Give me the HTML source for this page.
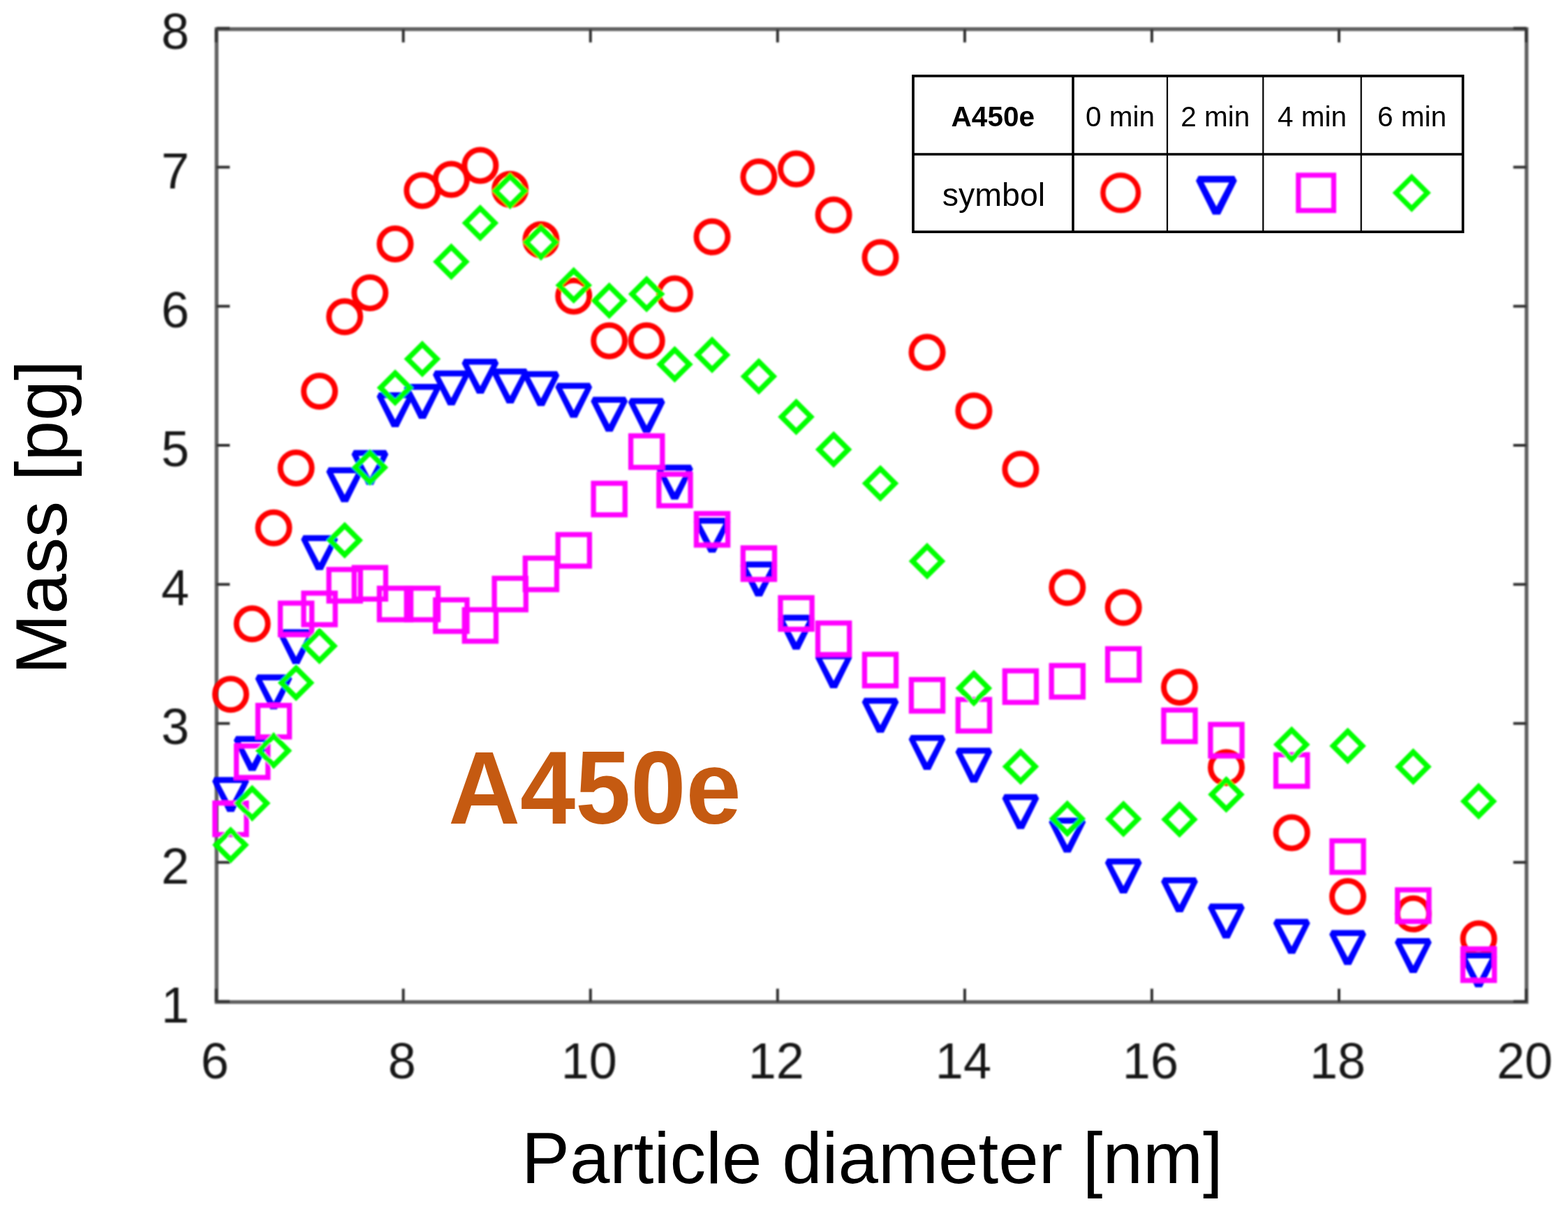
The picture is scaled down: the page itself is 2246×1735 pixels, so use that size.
<!DOCTYPE html>
<html><head><meta charset="utf-8"><title>A450e particle mass distribution</title>
<style>html,body{margin:0;padding:0;background:#fff;}body{width:2246px;height:1735px;overflow:hidden;}svg{display:block;}text{font-family:"Liberation Sans",sans-serif;}</style></head><body>
<svg width="2246" height="1735" viewBox="0 0 2246 1735">
<rect width="2246" height="1735" fill="#fff"/>
<defs><filter id="bl" filterUnits="userSpaceOnUse" x="0" y="0" width="2246" height="1735"><feGaussianBlur stdDeviation="0.8"/></filter></defs>
<g filter="url(#bl)">
<g stroke="#606060" stroke-width="5.4" fill="none" stroke-linecap="square"><path d="M310.2 41.8H2186.6V1435.6H310.2Z"/></g>
<path d="M309.7 1435.6V1416.6M309.7 41.8V60.8M577.7 1435.6V1416.6M577.7 41.8V60.8M845.8 1435.6V1416.6M845.8 41.8V60.8M1113.8 1435.6V1416.6M1113.8 41.8V60.8M1381.9 1435.6V1416.6M1381.9 41.8V60.8M1649.9 1435.6V1416.6M1649.9 41.8V60.8M1918.0 1435.6V1416.6M1918.0 41.8V60.8M2186.0 1435.6V1416.6M2186.0 41.8V60.8M310.2 1434.8H329.2M2186.6 1434.8H2167.6M310.2 1235.6H329.2M2186.6 1235.6H2167.6M310.2 1036.4H329.2M2186.6 1036.4H2167.6M310.2 837.2H329.2M2186.6 837.2H2167.6M310.2 638.0H329.2M2186.6 638.0H2167.6M310.2 438.8H329.2M2186.6 438.8H2167.6M310.2 239.6H329.2M2186.6 239.6H2167.6M310.2 40.4H329.2M2186.6 40.4H2167.6" stroke="#333" stroke-width="4" fill="none"/>
<g font-size="72" fill="#161616">
<text x="307.7" y="1545" text-anchor="middle">6</text>
<text x="575.7" y="1545" text-anchor="middle">8</text>
<text x="843.8" y="1545" text-anchor="middle">10</text>
<text x="1111.8" y="1545" text-anchor="middle">12</text>
<text x="1379.9" y="1545" text-anchor="middle">14</text>
<text x="1647.9" y="1545" text-anchor="middle">16</text>
<text x="1916.0" y="1545" text-anchor="middle">18</text>
<text x="2184.0" y="1545" text-anchor="middle">20</text>
<text x="271" y="1464.8" text-anchor="end">1</text>
<text x="271" y="1265.6" text-anchor="end">2</text>
<text x="271" y="1066.4" text-anchor="end">3</text>
<text x="271" y="867.2" text-anchor="end">4</text>
<text x="271" y="668.0" text-anchor="end">5</text>
<text x="271" y="468.8" text-anchor="end">6</text>
<text x="271" y="269.6" text-anchor="end">7</text>
<text x="271" y="70.4" text-anchor="end">8</text>
</g>
</g>
<text x="747" y="1695" font-size="103.3" fill="#000">Particle diameter [nm]</text>
<text transform="translate(94.6 966.2) rotate(-90)" x="0" y="0" font-size="103.8" fill="#000">Mass [pg]</text>
<text transform="translate(642.2 1179.5) scale(0.962 1)" font-size="148" font-weight="bold" fill="#C55A11">A450e</text>
<g filter="url(#bl)">
<circle cx="330.4" cy="994.8" r="22.5" fill="none" stroke="#f00" stroke-width="8.0"/>
<circle cx="361.2" cy="893.8" r="22.5" fill="none" stroke="#f00" stroke-width="8.0"/>
<circle cx="392.0" cy="756.3" r="22.5" fill="none" stroke="#f00" stroke-width="8.0"/>
<circle cx="424.1" cy="670.4" r="22.5" fill="none" stroke="#f00" stroke-width="8.0"/>
<circle cx="457.6" cy="560.6" r="22.5" fill="none" stroke="#f00" stroke-width="8.0"/>
<circle cx="493.7" cy="453.8" r="22.5" fill="none" stroke="#f00" stroke-width="8.0"/>
<circle cx="529.9" cy="419.4" r="22.5" fill="none" stroke="#f00" stroke-width="8.0"/>
<circle cx="566.0" cy="349.5" r="22.5" fill="none" stroke="#f00" stroke-width="8.0"/>
<circle cx="604.9" cy="272.9" r="22.5" fill="none" stroke="#f00" stroke-width="8.0"/>
<circle cx="646.4" cy="257.1" r="22.5" fill="none" stroke="#f00" stroke-width="8.0"/>
<circle cx="687.9" cy="236.9" r="22.5" fill="none" stroke="#f00" stroke-width="8.0"/>
<circle cx="730.7" cy="271.3" r="22.5" fill="none" stroke="#f00" stroke-width="8.0"/>
<circle cx="774.9" cy="343.6" r="22.5" fill="none" stroke="#f00" stroke-width="8.0"/>
<circle cx="821.8" cy="424.2" r="22.5" fill="none" stroke="#f00" stroke-width="8.0"/>
<circle cx="872.7" cy="488.2" r="22.5" fill="none" stroke="#f00" stroke-width="8.0"/>
<circle cx="926.2" cy="488.2" r="22.5" fill="none" stroke="#f00" stroke-width="8.0"/>
<circle cx="966.4" cy="421.1" r="22.5" fill="none" stroke="#f00" stroke-width="8.0"/>
<circle cx="1020.0" cy="339.3" r="22.5" fill="none" stroke="#f00" stroke-width="8.0"/>
<circle cx="1086.9" cy="253.5" r="22.5" fill="none" stroke="#f00" stroke-width="8.0"/>
<circle cx="1140.5" cy="242.1" r="22.5" fill="none" stroke="#f00" stroke-width="8.0"/>
<circle cx="1194.1" cy="308.0" r="22.5" fill="none" stroke="#f00" stroke-width="8.0"/>
<circle cx="1261.0" cy="368.9" r="22.5" fill="none" stroke="#f00" stroke-width="8.0"/>
<circle cx="1328.0" cy="504.8" r="22.5" fill="none" stroke="#f00" stroke-width="8.0"/>
<circle cx="1394.9" cy="588.7" r="22.5" fill="none" stroke="#f00" stroke-width="8.0"/>
<circle cx="1461.9" cy="672.3" r="22.5" fill="none" stroke="#f00" stroke-width="8.0"/>
<circle cx="1528.8" cy="841.8" r="22.5" fill="none" stroke="#f00" stroke-width="8.0"/>
<circle cx="1609.2" cy="870.3" r="22.5" fill="none" stroke="#f00" stroke-width="8.0"/>
<circle cx="1689.5" cy="984.4" r="22.5" fill="none" stroke="#f00" stroke-width="8.0"/>
<circle cx="1756.5" cy="1099.8" r="22.5" fill="none" stroke="#f00" stroke-width="8.0"/>
<circle cx="1850.2" cy="1193.0" r="22.5" fill="none" stroke="#f00" stroke-width="8.0"/>
<circle cx="1930.5" cy="1284.6" r="22.5" fill="none" stroke="#f00" stroke-width="8.0"/>
<circle cx="2024.3" cy="1309.3" r="22.5" fill="none" stroke="#f00" stroke-width="8.0"/>
<circle cx="2118.0" cy="1345.1" r="22.5" fill="none" stroke="#f00" stroke-width="8.0"/>
<path d="M307.3 1113.3L353.4 1113.3L356.8 1119.6L335.2 1163.3L325.6 1163.3L304.0 1119.6ZM314.0 1121.8L346.7 1121.8L330.4 1152.7Z" fill="#00f" fill-rule="evenodd"/>
<path d="M338.1 1054.5L384.2 1054.5L387.6 1060.8L366.0 1104.5L356.4 1104.5L334.8 1060.8ZM344.8 1063.0L377.5 1063.0L361.2 1093.9Z" fill="#00f" fill-rule="evenodd"/>
<path d="M368.9 966.3L415.0 966.3L418.4 972.6L396.8 1016.3L387.2 1016.3L365.6 972.6ZM375.6 974.8L408.3 974.8L392.0 1005.7Z" fill="#00f" fill-rule="evenodd"/>
<path d="M401.1 901.5L447.1 901.5L450.5 907.8L428.9 951.5L419.3 951.5L397.7 907.8ZM407.8 910.0L440.4 910.0L424.1 940.9Z" fill="#00f" fill-rule="evenodd"/>
<path d="M434.5 766.8L480.6 766.8L484.0 773.1L462.4 816.8L452.8 816.8L431.2 773.1ZM441.2 775.3L473.9 775.3L457.6 806.2Z" fill="#00f" fill-rule="evenodd"/>
<path d="M470.7 669.6L516.8 669.6L520.1 675.9L498.5 719.6L488.9 719.6L467.3 675.9ZM477.4 678.1L510.0 678.1L493.7 709.0Z" fill="#00f" fill-rule="evenodd"/>
<path d="M506.8 644.7L552.9 644.7L556.3 651.0L534.7 694.7L525.1 694.7L503.5 651.0ZM513.6 653.2L546.2 653.2L529.9 684.1Z" fill="#00f" fill-rule="evenodd"/>
<path d="M543.0 561.9L589.1 561.9L592.4 568.2L570.8 611.9L561.2 611.9L539.6 568.2ZM549.7 570.4L582.4 570.4L566.0 601.3Z" fill="#00f" fill-rule="evenodd"/>
<path d="M581.8 550.0L627.9 550.0L631.3 556.3L609.7 600.0L600.1 600.0L578.5 556.3ZM588.5 558.5L621.2 558.5L604.9 589.4Z" fill="#00f" fill-rule="evenodd"/>
<path d="M623.3 530.8L669.4 530.8L672.8 537.1L651.2 580.8L641.6 580.8L620.0 537.1ZM630.1 539.3L662.7 539.3L646.4 570.2Z" fill="#00f" fill-rule="evenodd"/>
<path d="M664.8 514.1L710.9 514.1L714.3 520.4L692.7 564.1L683.1 564.1L661.5 520.4ZM671.6 522.6L704.2 522.6L687.9 553.5Z" fill="#00f" fill-rule="evenodd"/>
<path d="M707.7 528.1L753.8 528.1L757.1 534.4L735.5 578.1L725.9 578.1L704.3 534.4ZM714.4 536.6L747.1 536.6L730.7 567.5Z" fill="#00f" fill-rule="evenodd"/>
<path d="M751.9 531.7L798.0 531.7L801.3 538.0L779.7 581.7L770.1 581.7L748.5 538.0ZM758.6 540.2L791.2 540.2L774.9 571.1Z" fill="#00f" fill-rule="evenodd"/>
<path d="M798.8 548.5L844.8 548.5L848.2 554.8L826.6 598.5L817.0 598.5L795.4 554.8ZM805.5 557.0L838.1 557.0L821.8 587.9Z" fill="#00f" fill-rule="evenodd"/>
<path d="M849.6 568.6L895.7 568.6L899.1 574.9L877.5 618.6L867.9 618.6L846.3 574.9ZM856.4 577.1L889.0 577.1L872.7 608.0Z" fill="#00f" fill-rule="evenodd"/>
<path d="M903.2 570.3L949.3 570.3L952.6 576.6L931.0 620.3L921.4 620.3L899.8 576.6ZM909.9 578.8L942.6 578.8L926.2 609.7Z" fill="#00f" fill-rule="evenodd"/>
<path d="M943.4 665.8L989.5 665.8L992.8 672.1L971.2 715.8L961.6 715.8L940.0 672.1ZM950.1 674.3L982.7 674.3L966.4 705.2Z" fill="#00f" fill-rule="evenodd"/>
<path d="M996.9 741.7L1043.0 741.7L1046.4 748.0L1024.8 791.7L1015.2 791.7L993.6 748.0ZM1003.7 750.2L1036.3 750.2L1020.0 781.1Z" fill="#00f" fill-rule="evenodd"/>
<path d="M1063.9 804.5L1110.0 804.5L1113.3 810.8L1091.7 854.5L1082.1 854.5L1060.5 810.8ZM1070.6 813.0L1103.3 813.0L1086.9 843.9Z" fill="#00f" fill-rule="evenodd"/>
<path d="M1117.5 880.7L1163.5 880.7L1166.9 887.0L1145.3 930.7L1135.7 930.7L1114.1 887.0ZM1124.2 889.2L1156.8 889.2L1140.5 920.1Z" fill="#00f" fill-rule="evenodd"/>
<path d="M1171.0 936.0L1217.1 936.0L1220.5 942.3L1198.9 986.0L1189.3 986.0L1167.7 942.3ZM1177.7 944.5L1210.4 944.5L1194.1 975.4Z" fill="#00f" fill-rule="evenodd"/>
<path d="M1238.0 999.7L1284.0 999.7L1287.4 1006.0L1265.8 1049.7L1256.2 1049.7L1234.6 1006.0ZM1244.7 1008.2L1277.3 1008.2L1261.0 1039.1Z" fill="#00f" fill-rule="evenodd"/>
<path d="M1304.9 1053.0L1351.0 1053.0L1354.4 1059.3L1332.8 1103.0L1323.2 1103.0L1301.6 1059.3ZM1311.6 1061.5L1344.3 1061.5L1328.0 1092.4Z" fill="#00f" fill-rule="evenodd"/>
<path d="M1371.9 1071.3L1418.0 1071.3L1421.3 1077.6L1399.7 1121.3L1390.1 1121.3L1368.5 1077.6ZM1378.6 1079.8L1411.2 1079.8L1394.9 1110.7Z" fill="#00f" fill-rule="evenodd"/>
<path d="M1438.8 1137.7L1484.9 1137.7L1488.3 1144.0L1466.7 1187.7L1457.1 1187.7L1435.5 1144.0ZM1445.6 1146.2L1478.2 1146.2L1461.9 1177.1Z" fill="#00f" fill-rule="evenodd"/>
<path d="M1505.8 1171.6L1551.9 1171.6L1555.2 1177.9L1533.6 1221.6L1524.0 1221.6L1502.4 1177.9ZM1512.5 1180.1L1545.1 1180.1L1528.8 1211.0Z" fill="#00f" fill-rule="evenodd"/>
<path d="M1586.1 1230.0L1632.2 1230.0L1635.6 1236.3L1614.0 1280.0L1604.4 1280.0L1582.8 1236.3ZM1592.8 1238.5L1625.5 1238.5L1609.2 1269.4Z" fill="#00f" fill-rule="evenodd"/>
<path d="M1666.5 1257.0L1712.6 1257.0L1715.9 1263.3L1694.3 1307.0L1684.7 1307.0L1663.1 1263.3ZM1673.2 1265.5L1705.8 1265.5L1689.5 1296.4Z" fill="#00f" fill-rule="evenodd"/>
<path d="M1733.4 1294.5L1779.5 1294.5L1782.9 1300.8L1761.3 1344.5L1751.7 1344.5L1730.1 1300.8ZM1740.1 1303.0L1772.8 1303.0L1756.5 1333.9Z" fill="#00f" fill-rule="evenodd"/>
<path d="M1827.2 1316.5L1873.2 1316.5L1876.6 1322.8L1855.0 1366.5L1845.4 1366.5L1823.8 1322.8ZM1833.9 1325.0L1866.5 1325.0L1850.2 1355.9Z" fill="#00f" fill-rule="evenodd"/>
<path d="M1907.5 1332.4L1953.6 1332.4L1956.9 1338.7L1935.3 1382.4L1925.7 1382.4L1904.1 1338.7ZM1914.2 1340.9L1946.9 1340.9L1930.5 1371.8Z" fill="#00f" fill-rule="evenodd"/>
<path d="M2001.2 1344.0L2047.3 1344.0L2050.7 1350.3L2029.1 1394.0L2019.5 1394.0L1997.9 1350.3ZM2008.0 1352.5L2040.6 1352.5L2024.3 1383.4Z" fill="#00f" fill-rule="evenodd"/>
<path d="M2095.0 1364.6L2141.1 1364.6L2144.4 1370.9L2122.8 1414.6L2113.2 1414.6L2091.6 1370.9ZM2101.7 1373.1L2134.3 1373.1L2118.0 1404.0Z" fill="#00f" fill-rule="evenodd"/>
<rect x="307.8" y="1150.5" width="45.2" height="45.2" fill="none" stroke="#f0f" stroke-width="7.3"/>
<rect x="338.6" y="1068.7" width="45.2" height="45.2" fill="none" stroke="#f0f" stroke-width="7.3"/>
<rect x="369.4" y="1010.6" width="45.2" height="45.2" fill="none" stroke="#f0f" stroke-width="7.3"/>
<rect x="401.5" y="864.1" width="45.2" height="45.2" fill="none" stroke="#f0f" stroke-width="7.3"/>
<rect x="435.0" y="849.8" width="45.2" height="45.2" fill="none" stroke="#f0f" stroke-width="7.3"/>
<rect x="471.1" y="815.9" width="45.2" height="45.2" fill="none" stroke="#f0f" stroke-width="7.3"/>
<rect x="507.3" y="813.1" width="45.2" height="45.2" fill="none" stroke="#f0f" stroke-width="7.3"/>
<rect x="543.4" y="842.7" width="45.2" height="45.2" fill="none" stroke="#f0f" stroke-width="7.3"/>
<rect x="582.3" y="842.7" width="45.2" height="45.2" fill="none" stroke="#f0f" stroke-width="7.3"/>
<rect x="623.8" y="859.4" width="45.2" height="45.2" fill="none" stroke="#f0f" stroke-width="7.3"/>
<rect x="665.3" y="873.5" width="45.2" height="45.2" fill="none" stroke="#f0f" stroke-width="7.3"/>
<rect x="708.1" y="828.5" width="45.2" height="45.2" fill="none" stroke="#f0f" stroke-width="7.3"/>
<rect x="752.3" y="799.6" width="45.2" height="45.2" fill="none" stroke="#f0f" stroke-width="7.3"/>
<rect x="799.2" y="765.9" width="45.2" height="45.2" fill="none" stroke="#f0f" stroke-width="7.3"/>
<rect x="850.1" y="692.4" width="45.2" height="45.2" fill="none" stroke="#f0f" stroke-width="7.3"/>
<rect x="903.6" y="624.4" width="45.2" height="45.2" fill="none" stroke="#f0f" stroke-width="7.3"/>
<rect x="943.8" y="679.4" width="45.2" height="45.2" fill="none" stroke="#f0f" stroke-width="7.3"/>
<rect x="997.4" y="735.8" width="45.2" height="45.2" fill="none" stroke="#f0f" stroke-width="7.3"/>
<rect x="1064.3" y="784.9" width="45.2" height="45.2" fill="none" stroke="#f0f" stroke-width="7.3"/>
<rect x="1117.9" y="856.3" width="45.2" height="45.2" fill="none" stroke="#f0f" stroke-width="7.3"/>
<rect x="1171.5" y="892.6" width="45.2" height="45.2" fill="none" stroke="#f0f" stroke-width="7.3"/>
<rect x="1238.4" y="937.4" width="45.2" height="45.2" fill="none" stroke="#f0f" stroke-width="7.3"/>
<rect x="1305.4" y="973.6" width="45.2" height="45.2" fill="none" stroke="#f0f" stroke-width="7.3"/>
<rect x="1372.3" y="1002.1" width="45.2" height="45.2" fill="none" stroke="#f0f" stroke-width="7.3"/>
<rect x="1439.3" y="961.1" width="45.2" height="45.2" fill="none" stroke="#f0f" stroke-width="7.3"/>
<rect x="1506.2" y="953.5" width="45.2" height="45.2" fill="none" stroke="#f0f" stroke-width="7.3"/>
<rect x="1586.6" y="929.4" width="45.2" height="45.2" fill="none" stroke="#f0f" stroke-width="7.3"/>
<rect x="1666.9" y="1017.3" width="45.2" height="45.2" fill="none" stroke="#f0f" stroke-width="7.3"/>
<rect x="1733.9" y="1037.9" width="45.2" height="45.2" fill="none" stroke="#f0f" stroke-width="7.3"/>
<rect x="1827.6" y="1081.3" width="45.2" height="45.2" fill="none" stroke="#f0f" stroke-width="7.3"/>
<rect x="1907.9" y="1204.6" width="45.2" height="45.2" fill="none" stroke="#f0f" stroke-width="7.3"/>
<rect x="2001.7" y="1274.9" width="45.2" height="45.2" fill="none" stroke="#f0f" stroke-width="7.3"/>
<rect x="2095.4" y="1359.5" width="45.2" height="45.2" fill="none" stroke="#f0f" stroke-width="7.3"/>
<path d="M330.4 1189.6L351.4 1210.6L330.4 1231.6L309.4 1210.6Z" fill="none" stroke="#0f0" stroke-width="7.5" stroke-linejoin="miter"/>
<path d="M361.2 1129.8L382.2 1150.8L361.2 1171.8L340.2 1150.8Z" fill="none" stroke="#0f0" stroke-width="7.5" stroke-linejoin="miter"/>
<path d="M392.0 1054.4L413.0 1075.4L392.0 1096.4L371.0 1075.4Z" fill="none" stroke="#0f0" stroke-width="7.5" stroke-linejoin="miter"/>
<path d="M424.1 957.2L445.1 978.2L424.1 999.2L403.1 978.2Z" fill="none" stroke="#0f0" stroke-width="7.5" stroke-linejoin="miter"/>
<path d="M457.6 904.5L478.6 925.5L457.6 946.5L436.6 925.5Z" fill="none" stroke="#0f0" stroke-width="7.5" stroke-linejoin="miter"/>
<path d="M493.7 753.0L514.7 774.0L493.7 795.0L472.7 774.0Z" fill="none" stroke="#0f0" stroke-width="7.5" stroke-linejoin="miter"/>
<path d="M529.9 648.7L550.9 669.7L529.9 690.7L508.9 669.7Z" fill="none" stroke="#0f0" stroke-width="7.5" stroke-linejoin="miter"/>
<path d="M566.0 534.5L587.0 555.5L566.0 576.5L545.0 555.5Z" fill="none" stroke="#0f0" stroke-width="7.5" stroke-linejoin="miter"/>
<path d="M604.9 493.3L625.9 514.3L604.9 535.3L583.9 514.3Z" fill="none" stroke="#0f0" stroke-width="7.5" stroke-linejoin="miter"/>
<path d="M646.4 353.9L667.4 374.9L646.4 395.9L625.4 374.9Z" fill="none" stroke="#0f0" stroke-width="7.5" stroke-linejoin="miter"/>
<path d="M687.9 298.4L708.9 319.4L687.9 340.4L666.9 319.4Z" fill="none" stroke="#0f0" stroke-width="7.5" stroke-linejoin="miter"/>
<path d="M730.7 252.6L751.7 273.6L730.7 294.6L709.7 273.6Z" fill="none" stroke="#0f0" stroke-width="7.5" stroke-linejoin="miter"/>
<path d="M774.9 326.1L795.9 347.1L774.9 368.1L753.9 347.1Z" fill="none" stroke="#0f0" stroke-width="7.5" stroke-linejoin="miter"/>
<path d="M821.8 387.8L842.8 408.8L821.8 429.8L800.8 408.8Z" fill="none" stroke="#0f0" stroke-width="7.5" stroke-linejoin="miter"/>
<path d="M872.7 409.8L893.7 430.8L872.7 451.8L851.7 430.8Z" fill="none" stroke="#0f0" stroke-width="7.5" stroke-linejoin="miter"/>
<path d="M926.2 400.3L947.2 421.3L926.2 442.3L905.2 421.3Z" fill="none" stroke="#0f0" stroke-width="7.5" stroke-linejoin="miter"/>
<path d="M966.4 501.0L987.4 522.0L966.4 543.0L945.4 522.0Z" fill="none" stroke="#0f0" stroke-width="7.5" stroke-linejoin="miter"/>
<path d="M1020.0 487.4L1041.0 508.4L1020.0 529.4L999.0 508.4Z" fill="none" stroke="#0f0" stroke-width="7.5" stroke-linejoin="miter"/>
<path d="M1086.9 518.2L1107.9 539.2L1086.9 560.2L1065.9 539.2Z" fill="none" stroke="#0f0" stroke-width="7.5" stroke-linejoin="miter"/>
<path d="M1140.5 576.2L1161.5 597.2L1140.5 618.2L1119.5 597.2Z" fill="none" stroke="#0f0" stroke-width="7.5" stroke-linejoin="miter"/>
<path d="M1194.1 623.0L1215.1 644.0L1194.1 665.0L1173.1 644.0Z" fill="none" stroke="#0f0" stroke-width="7.5" stroke-linejoin="miter"/>
<path d="M1261.0 671.5L1282.0 692.5L1261.0 713.5L1240.0 692.5Z" fill="none" stroke="#0f0" stroke-width="7.5" stroke-linejoin="miter"/>
<path d="M1328.0 782.9L1349.0 803.9L1328.0 824.9L1307.0 803.9Z" fill="none" stroke="#0f0" stroke-width="7.5" stroke-linejoin="miter"/>
<path d="M1394.9 965.0L1415.9 986.0L1394.9 1007.0L1373.9 986.0Z" fill="none" stroke="#0f0" stroke-width="7.5" stroke-linejoin="miter"/>
<path d="M1461.9 1077.2L1482.9 1098.2L1461.9 1119.2L1440.9 1098.2Z" fill="none" stroke="#0f0" stroke-width="7.5" stroke-linejoin="miter"/>
<path d="M1528.8 1151.9L1549.8 1172.9L1528.8 1193.9L1507.8 1172.9Z" fill="none" stroke="#0f0" stroke-width="7.5" stroke-linejoin="miter"/>
<path d="M1609.2 1152.2L1630.2 1173.2L1609.2 1194.2L1588.2 1173.2Z" fill="none" stroke="#0f0" stroke-width="7.5" stroke-linejoin="miter"/>
<path d="M1689.5 1153.0L1710.5 1174.0L1689.5 1195.0L1668.5 1174.0Z" fill="none" stroke="#0f0" stroke-width="7.5" stroke-linejoin="miter"/>
<path d="M1756.5 1117.2L1777.5 1138.2L1756.5 1159.2L1735.5 1138.2Z" fill="none" stroke="#0f0" stroke-width="7.5" stroke-linejoin="miter"/>
<path d="M1850.2 1045.8L1871.2 1066.8L1850.2 1087.8L1829.2 1066.8Z" fill="none" stroke="#0f0" stroke-width="7.5" stroke-linejoin="miter"/>
<path d="M1930.5 1047.7L1951.5 1068.7L1930.5 1089.7L1909.5 1068.7Z" fill="none" stroke="#0f0" stroke-width="7.5" stroke-linejoin="miter"/>
<path d="M2024.3 1077.4L2045.3 1098.4L2024.3 1119.4L2003.3 1098.4Z" fill="none" stroke="#0f0" stroke-width="7.5" stroke-linejoin="miter"/>
<path d="M2118.0 1126.9L2139.0 1147.9L2118.0 1168.9L2097.0 1147.9Z" fill="none" stroke="#0f0" stroke-width="7.5" stroke-linejoin="miter"/>
</g>
<rect x="1308" y="108.8" width="787.5" height="223.39999999999998" fill="#fff"/>
<path d="M1672 108.8V332.2M1809.3 108.8V332.2M1949.7 108.8V332.2" stroke="#000" stroke-width="2.2"/>
<path d="M1308 221.0H2095.5M1537 108.8V332.2" stroke="#000" stroke-width="3.6"/>
<rect x="1308" y="108.8" width="787.5" height="223.39999999999998" fill="none" stroke="#000" stroke-width="3.7"/>
<g font-size="40.5" fill="#000" text-anchor="middle">
<text x="1422.3" y="181" font-weight="bold">A450e</text>
<text x="1604.5" y="181">0 min</text>
<text x="1740.7" y="181">2 min</text>
<text x="1879.5" y="181">4 min</text>
<text x="2022.6" y="181">6 min</text>
<text x="1423.5" y="294.5" font-size="46.5">symbol</text>
</g>
<g filter="url(#bl)">
<circle cx="1605.2" cy="276.3" r="25.3" fill="none" stroke="#f00" stroke-width="7.5"/>
<path d="M1716.7 252.0L1768.1 252.0L1771.8 258.9L1747.8 307.6L1737.1 307.6L1713.0 258.9ZM1724.2 261.4L1760.6 261.4L1742.4 295.9Z" fill="#00f" fill-rule="evenodd"/>
<rect x="1859.8" y="251.0" width="50.6" height="50.6" fill="none" stroke="#f0f" stroke-width="7.2"/>
<path d="M2022.1 253.8L2044.6 276.3L2022.1 298.8L1999.6 276.3Z" fill="none" stroke="#0f0" stroke-width="7.2" stroke-linejoin="miter"/>
</g>
</svg></body></html>
